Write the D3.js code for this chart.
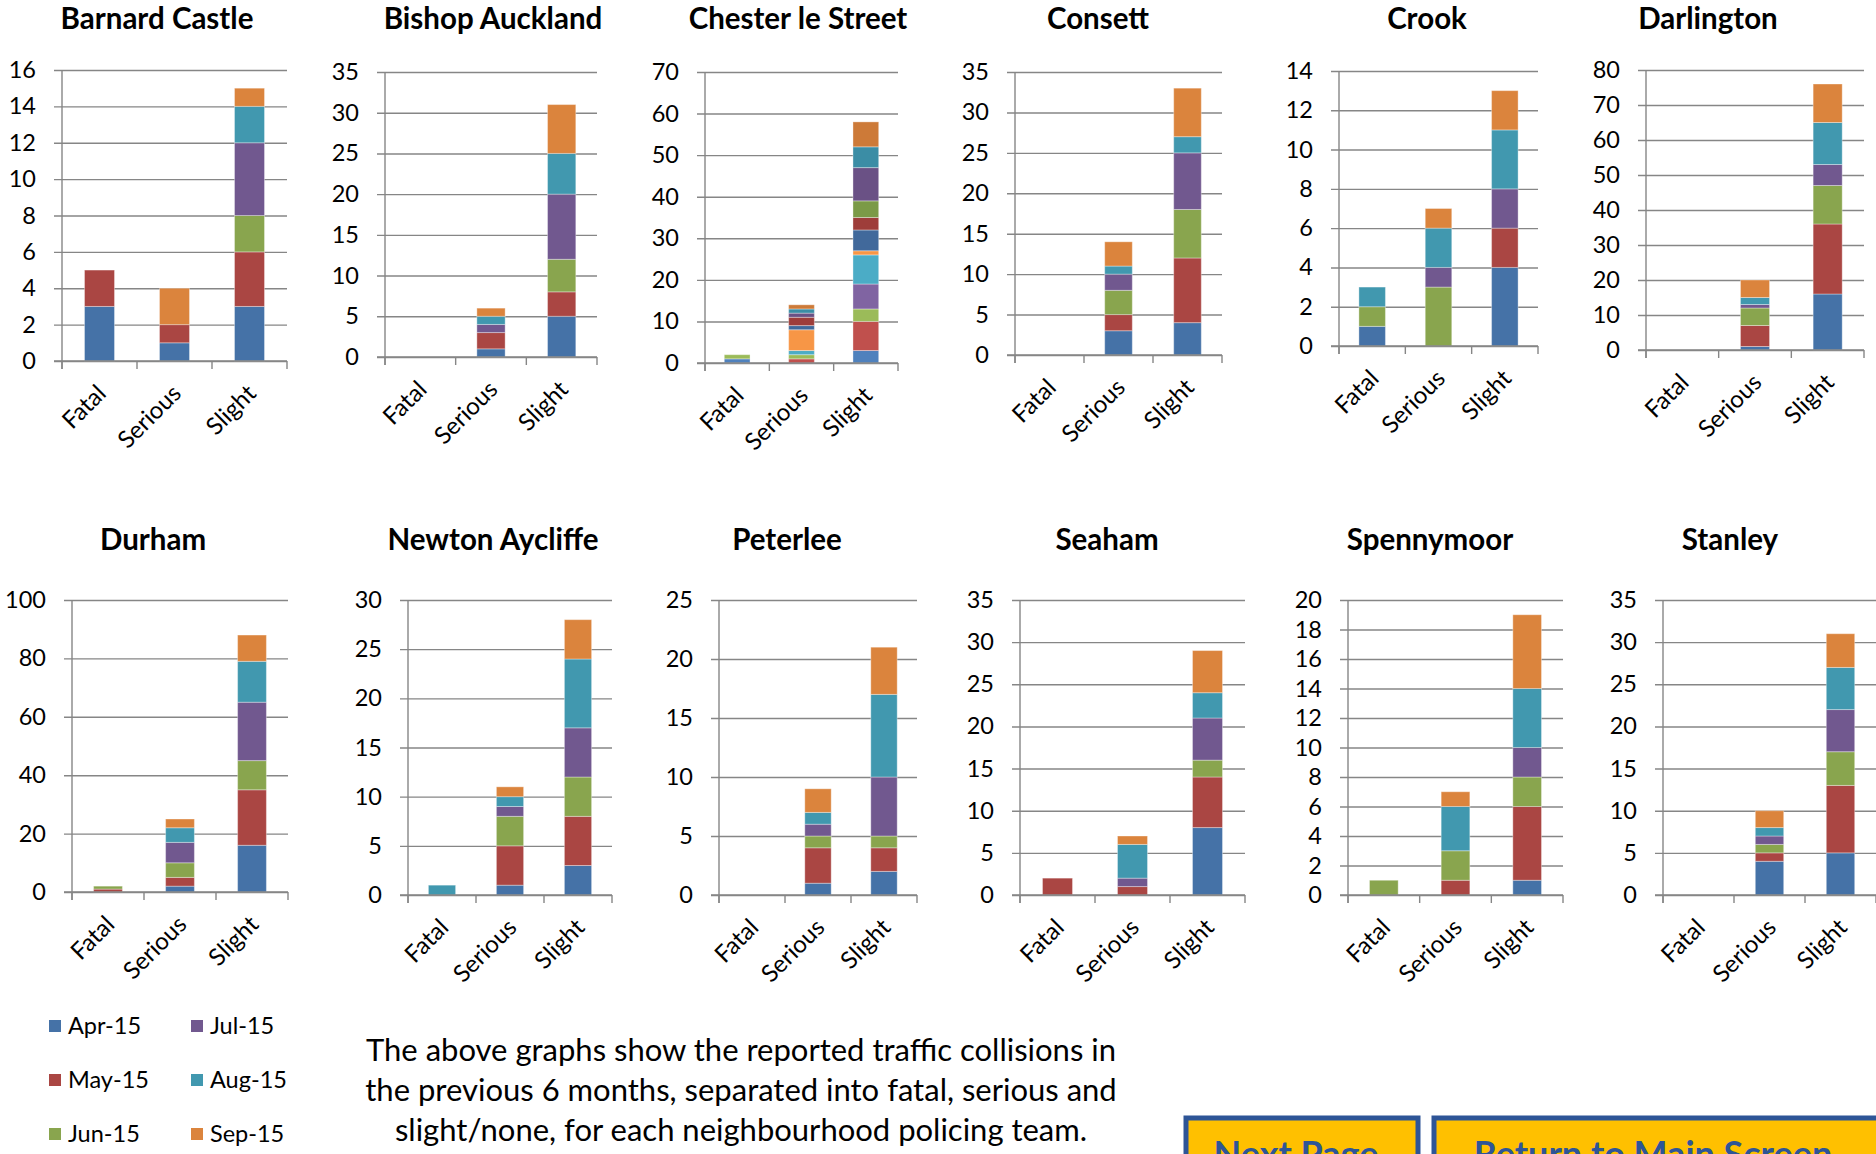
<!DOCTYPE html>
<html>
<head>
<meta charset="utf-8">
<script src="https://cdn.jsdelivr.net/npm/d3@7"></script>
<style>
	body { margin: 0; background: #fff; overflow: hidden; }
	text { font-family: Lato, "Open Sans", sans-serif; fill: #000; }
</style>
</head>
<body>
<script>
// month series, oldest first
const months = ["Apr-15", "May-15", "Jun-15", "Jul-15", "Aug-15", "Sep-15"];
const monthColors = ["#4572A7", "#AA4643", "#89A54E", "#71588F", "#4198AF", "#DB843D"];
// Chester le Street sheet carries 12 series (Excel extended palette)
const chesterColors = ["#4F81BD", "#C0504D", "#9BBB59", "#8064A2", "#4BACC6", "#F79646",
	"#41699B", "#9E3D3A", "#7B9A47", "#6A5185", "#3B8DA5", "#CD7A38"];
const categories = ["Fatal", "Serious", "Slight"];

const stations = ["Barnard Castle", "Bishop Auckland", "Chester le Street", "Consett", "Crook", "Darlington",
	"Durham", "Newton Aycliffe", "Peterlee", "Seaham", "Spennymoor", "Stanley"];
const yMax = [16, 35, 70, 35, 14, 80, 100, 30, 25, 35, 20, 35];
const yStep = [2, 5, 10, 5, 2, 10, 20, 5, 5, 5, 2, 5];

// [Fatal, Serious, Slight], each by month
const barnardCastle = [[3, 2, 0, 0, 0, 0], [1, 1, 0, 0, 0, 2], [3, 3, 2, 4, 2, 1]];
const bishopAuckland = [[0, 0, 0, 0, 0, 0], [1, 2, 0, 1, 1, 1], [5, 3, 4, 8, 5, 6]];
const chesterLeStreet = [
	[1, 0, 1, 0, 0, 0, 0, 0, 0, 0, 0, 0],
	[0, 1, 1, 0, 1, 5, 1, 2, 0, 1, 1, 1],
	[3, 7, 3, 6, 7, 1, 5, 3, 4, 8, 5, 6]
];
const consett = [[0, 0, 0, 0, 0, 0], [3, 2, 3, 2, 1, 3], [4, 8, 6, 7, 2, 6]];
const crook = [[1, 0, 1, 0, 1, 0], [0, 0, 3, 1, 2, 1], [4, 2, 0, 2, 3, 2]];
const darlington = [[0, 0, 0, 0, 0, 0], [1, 6, 5, 1, 2, 5], [16, 20, 11, 6, 12, 11]];
const durham = [[0, 1, 1, 0, 0, 0], [2, 3, 5, 7, 5, 3], [16, 19, 10, 20, 14, 9]];
const newtonAycliffe = [[0, 0, 0, 0, 1, 0], [1, 4, 3, 1, 1, 1], [3, 5, 4, 5, 7, 4]];
const peterlee = [[0, 0, 0, 0, 0, 0], [1, 3, 1, 1, 1, 2], [2, 2, 1, 5, 7, 4]];
const seaham = [[0, 2, 0, 0, 0, 0], [0, 1, 0, 1, 4, 1], [8, 6, 2, 5, 3, 5]];
const spennymoor = [[0, 0, 1, 0, 0, 0], [0, 1, 2, 0, 3, 1], [1, 5, 2, 2, 4, 5]];
const stanley = [[0, 0, 0, 0, 0, 0], [4, 1, 1, 1, 1, 2], [5, 8, 4, 5, 5, 4]];

const stationData = [barnardCastle, bishopAuckland, chesterLeStreet, consett, crook, darlington,
	durham, newtonAycliffe, peterlee, seaham, spennymoor, stanley];

const footnote = [
	"The above graphs show the reported traffic collisions in",
	"the previous 6 months, separated into fatal, serious and",
	"slight/none, for each neighbourhood policing team."
];

// plot frames (left axis, top gridline, baseline, right end), title centre x
const frames = [
	{ l: 62, t: 70, b: 361, r: 287, tx: 157 },
	{ l: 385, t: 72, b: 357, r: 597, tx: 493 },
	{ l: 705, t: 72, b: 363, r: 898, tx: 798 },
	{ l: 1015, t: 72, b: 355, r: 1222, tx: 1098 },
	{ l: 1339, t: 71, b: 346, r: 1538, tx: 1427 },
	{ l: 1646, t: 70, b: 350, r: 1864, tx: 1708 },
	{ l: 72, t: 600, b: 892, r: 288, tx: 153 },
	{ l: 408, t: 600, b: 895, r: 612, tx: 493 },
	{ l: 719, t: 600, b: 895, r: 917, tx: 787 },
	{ l: 1020, t: 600, b: 895, r: 1245, tx: 1107 },
	{ l: 1348, t: 600, b: 895, r: 1563, tx: 1430 },
	{ l: 1663, t: 600, b: 895, r: 1876, tx: 1730 }
];

const GRID = "#868686";

const svg = d3.select("body").append("svg")
	.attr("width", 1876)
	.attr("height", 1154);

function drawPanel(i) {
	const f = frames[i];
	const data = stationData[i];
	const nSeries = data[0].length;
	const colors = nSeries === 12 ? chesterColors : monthColors;
	const g = svg.append("g");

	const x = d3.scaleBand()
		.domain(categories)
		.range([f.l, f.r])
		.paddingInner(0.6)
		.paddingOuter(0.3);
	const y = d3.scaleLinear()
		.domain([0, yMax[i]])
		.range([f.b, f.t]);

	// title
	g.append("text")
		.attr("x", f.tx)
		.attr("y", f.t < 300 ? 29 : 550)
		.attr("text-anchor", "middle")
		.attr("font-weight", 700)
		.attr("font-size", 29.5)
		.text(stations[i]);

	// gridlines + value axis labels
	const yAxis = d3.axisLeft(y)
		.tickValues(d3.range(0, yMax[i] + yStep[i] / 2, yStep[i]))
		.tickSize(-(f.r - f.l))
		.tickPadding(26)
		.tickFormat(d3.format("d"));
	const ya = g.append("g")
		.attr("transform", `translate(${f.l},0)`)
		.call(yAxis);
	ya.select(".domain").remove();
	ya.selectAll("line")
		.attr("x1", -8)
		.attr("stroke", GRID)
		.attr("stroke-width", 1.4);
	ya.selectAll("text")
		.attr("font-size", 23.5)
		.attr("fill", "#000")
		.style("font-family", "Lato, sans-serif");

	// stacked bars
	const rows = categories.map((c, ci) => {
		const row = { cat: c };
		data[ci].forEach((v, k) => { row[k] = v; });
		return row;
	});
	const stack = d3.stack().keys(d3.range(nSeries))(rows);
	g.append("g")
		.selectAll("g")
		.data(stack)
		.join("g")
		.attr("fill", d => colors[d.key])
		.selectAll("rect")
		.data(d => d.filter(s => s[1] > s[0]))
		.join("rect")
		.attr("x", d => x(d.data.cat))
		.attr("width", x.bandwidth())
		.attr("y", d => y(d[1]))
		.attr("height", d => y(d[0]) - y(d[1]))
		.attr("stroke", "#fff")
		.attr("stroke-opacity", 0.35)
		.attr("stroke-width", 1);

	// axis lines and category ticks
	g.append("line")
		.attr("x1", f.l).attr("x2", f.l)
		.attr("y1", f.t).attr("y2", f.b + 8)
		.attr("stroke", GRID).attr("stroke-width", 1.4);
	g.append("line")
		.attr("x1", f.l - 8).attr("x2", f.r)
		.attr("y1", f.b).attr("y2", f.b)
		.attr("stroke", GRID).attr("stroke-width", 1.4);
	g.selectAll(".ctick")
		.data(d3.range(categories.length + 1))
		.join("line")
		.attr("x1", k => f.l + k * x.step())
		.attr("x2", k => f.l + k * x.step())
		.attr("y1", f.b)
		.attr("y2", f.b + 8)
		.attr("stroke", GRID)
		.attr("stroke-width", 1.4);

	// rotated category labels
	g.selectAll(".clab")
		.data(categories)
		.join("text")
		.attr("transform", c => `translate(${x(c) + x.bandwidth() / 2 + 8},${f.b + 34}) rotate(-45)`)
		.attr("text-anchor", "end")
		.attr("font-size", 24)
		.text(c => c);
}

stations.forEach((s, i) => drawPanel(i));

// legend
const legend = svg.append("g")
	.selectAll("g")
	.data(months)
	.join("g")
	.attr("transform", (m, i) => `translate(${i < 3 ? 49 : 191},${1026 + (i % 3) * 54})`);
legend.append("rect")
	.attr("x", 0).attr("y", -6)
	.attr("width", 12).attr("height", 12)
	.attr("fill", (m, i) => monthColors[i]);
legend.append("text")
	.attr("x", 19).attr("y", 8)
	.attr("font-size", 23.5)
	.text(m => m);

// explanatory note
svg.append("g")
	.selectAll("text")
	.data(footnote)
	.join("text")
	.attr("x", 741)
	.attr("y", (d, i) => 1061 + i * 40)
	.attr("text-anchor", "middle")
	.attr("font-size", 31)
	.text(d => d);

// navigation buttons (cut off at page bottom, as on the source screen)
const buttons = [
	{ label: "Next Page", x: 1186, w: 232 },
	{ label: "Return to Main Screen", x: 1434, w: 450 }
];
const btn = svg.append("g")
	.selectAll("g")
	.data(buttons)
	.join("g")
	.attr("transform", d => `translate(${d.x},1118)`);
btn.append("rect")
	.attr("width", d => d.w)
	.attr("height", 70)
	.attr("fill", "#FFC000")
	.attr("stroke", "#2E5597")
	.attr("stroke-width", 5);
btn.append("text")
	.attr("x", d => d.w / 2 - 6)
	.attr("y", 49)
	.attr("text-anchor", "middle")
	.attr("font-size", 36)
	.attr("font-weight", 700)
	.style("fill", "#2E5597")
	.text(d => d.label);
</script>
</body>
</html>
